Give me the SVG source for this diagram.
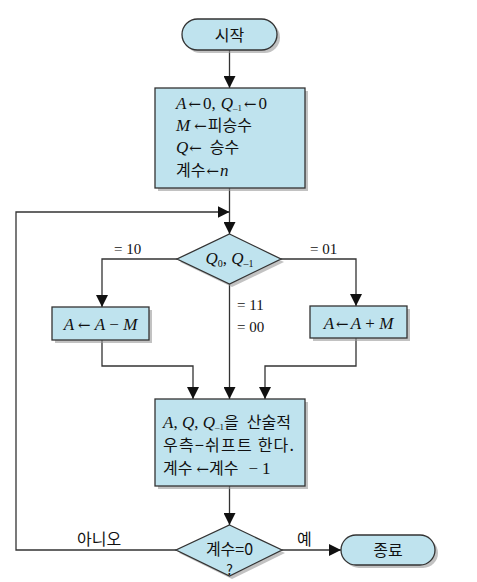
<svg xmlns="http://www.w3.org/2000/svg" width="477" height="582" viewBox="0 0 477 582">
<defs>
<marker id="ah" viewBox="0 0 12 12" refX="12" refY="6" markerWidth="12" markerHeight="12" markerUnits="userSpaceOnUse" orient="auto">
<path d="M0,0 L12,6 L0,12 Z" fill="#111"/>
</marker>
</defs>
<style>
.shape{fill:#bfe3ee;stroke:#333;stroke-width:1.3}
.shadow{fill:#9a9a9a;opacity:0.6}
.conn{fill:none;stroke:#333;stroke-width:1.3}
.k{font-family:"Noto Sans CJK KR","Noto Sans",sans-serif;font-size:16px;fill:#111}
.m{font-family:"Liberation Serif",serif;font-size:17px;fill:#111}
.i{font-style:italic}
.ar{font-family:"DejaVu Serif",serif;font-size:15px}
.lbl{font-family:"Liberation Serif",serif;font-size:15px;fill:#111}
</style>
<rect width="477" height="582" fill="#ffffff"/>

<g id="connectors">
<line class="conn" x1="229.5" y1="50" x2="229.5" y2="88" marker-end="url(#ah)"/>
<line class="conn" x1="229.5" y1="188" x2="229.5" y2="234" marker-end="url(#ah)"/>
<polyline class="conn" points="177,259 102,259 102,307" marker-end="url(#ah)"/>
<polyline class="conn" points="281,259 356,259 356,306" marker-end="url(#ah)"/>
<line class="conn" x1="229.5" y1="284" x2="229.5" y2="399" marker-end="url(#ah)"/>
<polyline class="conn" points="102,340 102,366 193,366 193,399" marker-end="url(#ah)"/>
<polyline class="conn" points="356,338 356,366 265,366 265,399" marker-end="url(#ah)"/>
<line class="conn" x1="229.5" y1="486" x2="229.5" y2="525" marker-end="url(#ah)"/>
<polyline class="conn" points="176,550 16,550 16,212 229.5,212" marker-end="url(#ah)"/>
<line class="conn" x1="282" y1="550" x2="341" y2="550" marker-end="url(#ah)"/>
<text class="lbl" x="114" y="254">= 10</text>
<text class="lbl" x="310" y="254">= 01</text>
<text class="lbl" x="237" y="310">= 11</text>
<text class="lbl" x="237" y="332">= 00</text>
<text class="k" x="77" y="545" font-size="16">아니오</text>
<text class="k" x="297" y="545" font-size="16">예</text>
</g>

<g id="start">
<rect class="shadow" x="185" y="22" width="95" height="31" rx="15.5"/>
<rect class="shape" x="182" y="19" width="95" height="31" rx="15.5"/>
<text class="k" x="229.5" y="41" text-anchor="middle" font-size="16">시작</text>
</g>

<g id="init">
<rect class="shadow" x="158" y="91" width="150" height="100"/>
<rect class="shape" x="155" y="88" width="150" height="100"/>
<text class="m" x="176" y="109" font-size="16"><tspan class="i">A</tspan><tspan class="ar" dx="2">←</tspan><tspan dx="2">0,</tspan><tspan class="i" dx="5">Q</tspan><tspan font-size="9" dy="2">–1</tspan><tspan class="ar" dy="-2" dx="2">←</tspan><tspan dx="2">0</tspan></text>
<text class="m" x="176" y="131" font-size="16"><tspan class="i">M</tspan><tspan class="ar" dx="4">←</tspan><tspan class="k" font-size="17" dx="1">피승수</tspan></text>
<text class="m" x="176" y="153" font-size="16"><tspan class="i">Q</tspan><tspan class="ar" dx="1">←</tspan><tspan class="k" font-size="17" dx="8">승수</tspan></text>
<text class="m" x="176" y="176" font-size="16"><tspan class="k" font-size="17">계수</tspan><tspan class="ar" dx="1">←</tspan><tspan class="i" dx="1">n</tspan></text>
</g>

<g id="test">
<polygon class="shadow" points="232,237 284,262 232,287 180,262"/>
<polygon class="shape" points="229.5,234 281,259 229.5,284 177,259"/>
<text class="m" x="229.5" y="264" text-anchor="middle" font-size="15"><tspan class="i">Q</tspan><tspan font-size="10" dy="3">0</tspan><tspan dy="-3">, </tspan><tspan class="i">Q</tspan><tspan font-size="10" dy="3">–1</tspan></text>
</g>

<g id="sub">
<rect class="shadow" x="55" y="310" width="97" height="33"/>
<rect class="shape" x="52" y="307" width="97" height="33"/>
<text class="m" x="100.5" y="330" text-anchor="middle"><tspan class="i">A</tspan><tspan class="ar" dx="4">←</tspan><tspan class="i" dx="4">A</tspan> − <tspan class="i">M</tspan></text>
</g>

<g id="add">
<rect class="shadow" x="313" y="309" width="97" height="32"/>
<rect class="shape" x="310" y="306" width="97" height="32"/>
<text class="m" x="358.5" y="329" text-anchor="middle"><tspan class="i">A</tspan><tspan class="ar" dx="2">←</tspan><tspan class="i" dx="2">A</tspan> + <tspan class="i">M</tspan></text>
</g>

<g id="shift">
<rect class="shadow" x="158" y="402" width="150" height="87"/>
<rect class="shape" x="155" y="399" width="150" height="87"/>
<text class="m" x="163" y="428" font-size="16"><tspan class="i">A</tspan>, <tspan class="i">Q</tspan>, <tspan class="i">Q</tspan><tspan font-size="9" dy="2">–1</tspan><tspan class="k" font-size="17" dy="-2">을</tspan><tspan class="k" font-size="17" dx="8">산술적</tspan></text>
<text class="k" x="163" y="451" font-size="17" textLength="131" lengthAdjust="spacing">우측−쉬프트 한다.</text>
<text class="k" x="163" y="474" font-size="17">계수<tspan class="ar" dx="4">←</tspan>계수<tspan class="m" dx="10">−</tspan><tspan class="m" dx="4">1</tspan></text>
</g>

<g id="check">
<polygon class="shadow" points="232,528 285,553 232,579 179,553"/>
<polygon class="shape" points="229.5,525 282,550 229.5,576 176,550"/>
<text class="k" text-anchor="middle" font-size="15"><tspan x="229.5" y="555">계수=0</tspan><tspan x="229.5" y="575" font-size="14">?</tspan></text>
</g>

<g id="end">
<rect class="shadow" x="344" y="538" width="94" height="30" rx="15"/>
<rect class="shape" x="341" y="535" width="94" height="30" rx="15"/>
<text class="k" x="388" y="556" text-anchor="middle" font-size="16">종료</text>
</g>
</svg>
